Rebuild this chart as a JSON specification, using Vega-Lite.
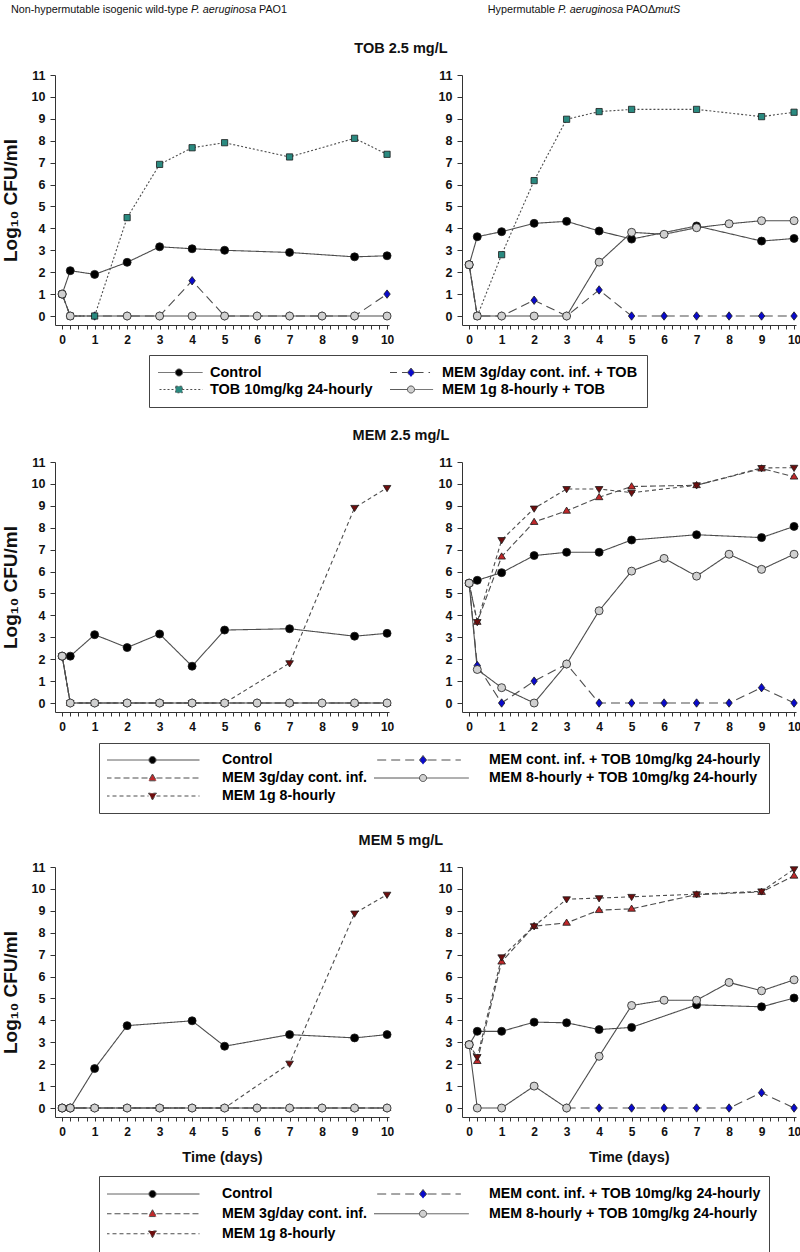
{
 "$schema": "https://vega.github.io/schema/vega-lite/v6.json",
 "padding": {"left": 1, "top": 4, "right": 0, "bottom": 0},
 "config": {
  "font": "Liberation Sans",
  "view": {"stroke": null},
  "axis": {"grid": false, "domainColor": "#333", "tickColor": "#333", "labelColor": "#111", "labelFontWeight": "bold", "labelFlush": false, "labelOverlap": false, "titleColor": "#111", "titleFontWeight": "bold", "labelFont": "Liberation Sans", "titleFont": "Liberation Sans"},
  "axisX": {"tickSize": 4, "labelFontSize": 12, "labelPadding": 5, "titleFontSize": 14.5, "titlePadding": 13},
  "axisY": {"tickSize": 5, "labelFontSize": 12.5, "labelPadding": 5, "titleFontSize": 19, "titlePadding": 11},
  "title": {"font": "Liberation Sans", "fontSize": 14.5, "fontWeight": "bold", "color": "#111", "anchor": "middle", "offset": 13}
 },
 "datasets": {
  "hdr": [
   {"strain": "wt", "pre": "Non-hypermutable isogenic wild-type", "sp": "P. aeruginosa", "post": "PAO1", "post2": ""},
   {"strain": "mut", "pre": "Hypermutable", "sp": "P. aeruginosa", "post": "PAOΔ", "post2": "mutS"}
  ],
  "tl": [
   {"series":"Control","t":0,"v":1},{"series":"Control","t":0.25,"v":2.07},{"series":"Control","t":1,"v":1.9},{"series":"Control","t":2,"v":2.45},{"series":"Control","t":3,"v":3.16},{"series":"Control","t":4,"v":3.07},{"series":"Control","t":5,"v":3},{"series":"Control","t":7,"v":2.9},{"series":"Control","t":9,"v":2.7},{"series":"Control","t":10,"v":2.75},
   {"series":"MEM 3g/day cont. inf. + TOB","t":0,"v":1},{"series":"MEM 3g/day cont. inf. + TOB","t":0.25,"v":0},{"series":"MEM 3g/day cont. inf. + TOB","t":1,"v":0},{"series":"MEM 3g/day cont. inf. + TOB","t":2,"v":0},{"series":"MEM 3g/day cont. inf. + TOB","t":3,"v":0},{"series":"MEM 3g/day cont. inf. + TOB","t":4,"v":1.61},{"series":"MEM 3g/day cont. inf. + TOB","t":5,"v":0},{"series":"MEM 3g/day cont. inf. + TOB","t":6,"v":0},{"series":"MEM 3g/day cont. inf. + TOB","t":7,"v":0},{"series":"MEM 3g/day cont. inf. + TOB","t":8,"v":0},{"series":"MEM 3g/day cont. inf. + TOB","t":9,"v":0},{"series":"MEM 3g/day cont. inf. + TOB","t":10,"v":1},
   {"series":"TOB 10mg/kg 24-hourly","t":0,"v":1},{"series":"TOB 10mg/kg 24-hourly","t":0.25,"v":0},{"series":"TOB 10mg/kg 24-hourly","t":1,"v":0},{"series":"TOB 10mg/kg 24-hourly","t":2,"v":4.49},{"series":"TOB 10mg/kg 24-hourly","t":3,"v":6.92},{"series":"TOB 10mg/kg 24-hourly","t":4,"v":7.68},{"series":"TOB 10mg/kg 24-hourly","t":5,"v":7.91},{"series":"TOB 10mg/kg 24-hourly","t":7,"v":7.26},{"series":"TOB 10mg/kg 24-hourly","t":9,"v":8.11},{"series":"TOB 10mg/kg 24-hourly","t":10,"v":7.38},
   {"series":"MEM 1g 8-hourly + TOB","t":0,"v":1},{"series":"MEM 1g 8-hourly + TOB","t":0.25,"v":0},{"series":"MEM 1g 8-hourly + TOB","t":2,"v":0},{"series":"MEM 1g 8-hourly + TOB","t":3,"v":0},{"series":"MEM 1g 8-hourly + TOB","t":4,"v":0},{"series":"MEM 1g 8-hourly + TOB","t":5,"v":0},{"series":"MEM 1g 8-hourly + TOB","t":6,"v":0},{"series":"MEM 1g 8-hourly + TOB","t":7,"v":0},{"series":"MEM 1g 8-hourly + TOB","t":8,"v":0},{"series":"MEM 1g 8-hourly + TOB","t":9,"v":0},{"series":"MEM 1g 8-hourly + TOB","t":10,"v":0}
  ],
  "tr": [
   {"series":"Control","t":0,"v":2.34},{"series":"Control","t":0.25,"v":3.62},{"series":"Control","t":1,"v":3.85},{"series":"Control","t":2,"v":4.23},{"series":"Control","t":3,"v":4.32},{"series":"Control","t":4,"v":3.88},{"series":"Control","t":5,"v":3.51},{"series":"Control","t":7,"v":4.11},{"series":"Control","t":9,"v":3.42},{"series":"Control","t":10,"v":3.54},
   {"series":"MEM 3g/day cont. inf. + TOB","t":0,"v":2.34},{"series":"MEM 3g/day cont. inf. + TOB","t":0.25,"v":0},{"series":"MEM 3g/day cont. inf. + TOB","t":1,"v":0},{"series":"MEM 3g/day cont. inf. + TOB","t":2,"v":0.72},{"series":"MEM 3g/day cont. inf. + TOB","t":3,"v":0},{"series":"MEM 3g/day cont. inf. + TOB","t":4,"v":1.19},{"series":"MEM 3g/day cont. inf. + TOB","t":5,"v":0},{"series":"MEM 3g/day cont. inf. + TOB","t":6,"v":0},{"series":"MEM 3g/day cont. inf. + TOB","t":7,"v":0},{"series":"MEM 3g/day cont. inf. + TOB","t":8,"v":0},{"series":"MEM 3g/day cont. inf. + TOB","t":9,"v":0},{"series":"MEM 3g/day cont. inf. + TOB","t":10,"v":0},
   {"series":"TOB 10mg/kg 24-hourly","t":0,"v":2.34},{"series":"TOB 10mg/kg 24-hourly","t":0.25,"v":0},{"series":"TOB 10mg/kg 24-hourly","t":1,"v":2.8},{"series":"TOB 10mg/kg 24-hourly","t":2,"v":6.18},{"series":"TOB 10mg/kg 24-hourly","t":3,"v":8.98},{"series":"TOB 10mg/kg 24-hourly","t":4,"v":9.33},{"series":"TOB 10mg/kg 24-hourly","t":5,"v":9.43},{"series":"TOB 10mg/kg 24-hourly","t":7,"v":9.43},{"series":"TOB 10mg/kg 24-hourly","t":9,"v":9.1},{"series":"TOB 10mg/kg 24-hourly","t":10,"v":9.3},
   {"series":"MEM 1g 8-hourly + TOB","t":0,"v":2.34},{"series":"MEM 1g 8-hourly + TOB","t":0.25,"v":0},{"series":"MEM 1g 8-hourly + TOB","t":1,"v":0},{"series":"MEM 1g 8-hourly + TOB","t":2,"v":0},{"series":"MEM 1g 8-hourly + TOB","t":3,"v":0},{"series":"MEM 1g 8-hourly + TOB","t":4,"v":2.46},{"series":"MEM 1g 8-hourly + TOB","t":5,"v":3.82},{"series":"MEM 1g 8-hourly + TOB","t":6,"v":3.73},{"series":"MEM 1g 8-hourly + TOB","t":7,"v":4.03},{"series":"MEM 1g 8-hourly + TOB","t":8,"v":4.21},{"series":"MEM 1g 8-hourly + TOB","t":9,"v":4.35},{"series":"MEM 1g 8-hourly + TOB","t":10,"v":4.35}
  ],
  "ml": [
   {"series":"Control","t":0,"v":2.14},{"series":"Control","t":0.25,"v":2.14},{"series":"Control","t":1,"v":3.12},{"series":"Control","t":2,"v":2.53},{"series":"Control","t":3,"v":3.15},{"series":"Control","t":4,"v":1.68},{"series":"Control","t":5,"v":3.33},{"series":"Control","t":7,"v":3.39},{"series":"Control","t":9,"v":3.05},{"series":"Control","t":10,"v":3.18},
   {"series":"MEM 3g/day cont. inf.","t":0,"v":2.14},{"series":"MEM 3g/day cont. inf.","t":0.25,"v":0},{"series":"MEM 3g/day cont. inf.","t":1,"v":0},{"series":"MEM 3g/day cont. inf.","t":2,"v":0},{"series":"MEM 3g/day cont. inf.","t":3,"v":0},{"series":"MEM 3g/day cont. inf.","t":4,"v":0},{"series":"MEM 3g/day cont. inf.","t":5,"v":0},{"series":"MEM 3g/day cont. inf.","t":7,"v":0},{"series":"MEM 3g/day cont. inf.","t":9,"v":0},{"series":"MEM 3g/day cont. inf.","t":10,"v":0},
   {"series":"MEM 1g 8-hourly","t":0,"v":2.14},{"series":"MEM 1g 8-hourly","t":0.25,"v":0},{"series":"MEM 1g 8-hourly","t":1,"v":0},{"series":"MEM 1g 8-hourly","t":2,"v":0},{"series":"MEM 1g 8-hourly","t":3,"v":0},{"series":"MEM 1g 8-hourly","t":4,"v":0},{"series":"MEM 1g 8-hourly","t":5,"v":0},{"series":"MEM 1g 8-hourly","t":7,"v":1.82},{"series":"MEM 1g 8-hourly","t":9,"v":8.91},{"series":"MEM 1g 8-hourly","t":10,"v":9.82},
   {"series":"MEM cont. inf. + TOB 10mg/kg 24-hourly","t":0,"v":2.14},{"series":"MEM cont. inf. + TOB 10mg/kg 24-hourly","t":0.25,"v":0},{"series":"MEM cont. inf. + TOB 10mg/kg 24-hourly","t":1,"v":0},{"series":"MEM cont. inf. + TOB 10mg/kg 24-hourly","t":2,"v":0},{"series":"MEM cont. inf. + TOB 10mg/kg 24-hourly","t":3,"v":0},{"series":"MEM cont. inf. + TOB 10mg/kg 24-hourly","t":4,"v":0},{"series":"MEM cont. inf. + TOB 10mg/kg 24-hourly","t":5,"v":0},{"series":"MEM cont. inf. + TOB 10mg/kg 24-hourly","t":6,"v":0},{"series":"MEM cont. inf. + TOB 10mg/kg 24-hourly","t":7,"v":0},{"series":"MEM cont. inf. + TOB 10mg/kg 24-hourly","t":8,"v":0},{"series":"MEM cont. inf. + TOB 10mg/kg 24-hourly","t":9,"v":0},{"series":"MEM cont. inf. + TOB 10mg/kg 24-hourly","t":10,"v":0},
   {"series":"MEM 8-hourly + TOB 10mg/kg 24-hourly","t":0,"v":2.14},{"series":"MEM 8-hourly + TOB 10mg/kg 24-hourly","t":0.25,"v":0},{"series":"MEM 8-hourly + TOB 10mg/kg 24-hourly","t":1,"v":0},{"series":"MEM 8-hourly + TOB 10mg/kg 24-hourly","t":2,"v":0},{"series":"MEM 8-hourly + TOB 10mg/kg 24-hourly","t":3,"v":0},{"series":"MEM 8-hourly + TOB 10mg/kg 24-hourly","t":4,"v":0},{"series":"MEM 8-hourly + TOB 10mg/kg 24-hourly","t":5,"v":0},{"series":"MEM 8-hourly + TOB 10mg/kg 24-hourly","t":6,"v":0},{"series":"MEM 8-hourly + TOB 10mg/kg 24-hourly","t":7,"v":0},{"series":"MEM 8-hourly + TOB 10mg/kg 24-hourly","t":8,"v":0},{"series":"MEM 8-hourly + TOB 10mg/kg 24-hourly","t":9,"v":0},{"series":"MEM 8-hourly + TOB 10mg/kg 24-hourly","t":10,"v":0}
  ],
  "mr": [
   {"series":"Control","t":0,"v":5.47},{"series":"Control","t":0.25,"v":5.6},{"series":"Control","t":1,"v":5.95},{"series":"Control","t":2,"v":6.73},{"series":"Control","t":3,"v":6.88},{"series":"Control","t":4,"v":6.88},{"series":"Control","t":5,"v":7.44},{"series":"Control","t":7,"v":7.68},{"series":"Control","t":9,"v":7.55},{"series":"Control","t":10,"v":8.06},
   {"series":"MEM 3g/day cont. inf.","t":0,"v":5.47},{"series":"MEM 3g/day cont. inf.","t":0.25,"v":3.7},{"series":"MEM 3g/day cont. inf.","t":1,"v":6.68},{"series":"MEM 3g/day cont. inf.","t":2,"v":8.26},{"series":"MEM 3g/day cont. inf.","t":3,"v":8.77},{"series":"MEM 3g/day cont. inf.","t":4,"v":9.39},{"series":"MEM 3g/day cont. inf.","t":5,"v":9.88},{"series":"MEM 3g/day cont. inf.","t":7,"v":9.94},{"series":"MEM 3g/day cont. inf.","t":9,"v":10.7},{"series":"MEM 3g/day cont. inf.","t":10,"v":10.33},
   {"series":"MEM 1g 8-hourly","t":0,"v":5.47},{"series":"MEM 1g 8-hourly","t":0.25,"v":3.7},{"series":"MEM 1g 8-hourly","t":1,"v":7.44},{"series":"MEM 1g 8-hourly","t":2,"v":8.88},{"series":"MEM 1g 8-hourly","t":3,"v":9.77},{"series":"MEM 1g 8-hourly","t":4,"v":9.77},{"series":"MEM 1g 8-hourly","t":5,"v":9.6},{"series":"MEM 1g 8-hourly","t":7,"v":9.94},{"series":"MEM 1g 8-hourly","t":9,"v":10.73},{"series":"MEM 1g 8-hourly","t":10,"v":10.74},
   {"series":"MEM cont. inf. + TOB 10mg/kg 24-hourly","t":0,"v":5.47},{"series":"MEM cont. inf. + TOB 10mg/kg 24-hourly","t":0.25,"v":1.71},{"series":"MEM cont. inf. + TOB 10mg/kg 24-hourly","t":1,"v":0},{"series":"MEM cont. inf. + TOB 10mg/kg 24-hourly","t":2,"v":1},{"series":"MEM cont. inf. + TOB 10mg/kg 24-hourly","t":3,"v":1.78},{"series":"MEM cont. inf. + TOB 10mg/kg 24-hourly","t":4,"v":0},{"series":"MEM cont. inf. + TOB 10mg/kg 24-hourly","t":5,"v":0},{"series":"MEM cont. inf. + TOB 10mg/kg 24-hourly","t":6,"v":0},{"series":"MEM cont. inf. + TOB 10mg/kg 24-hourly","t":7,"v":0},{"series":"MEM cont. inf. + TOB 10mg/kg 24-hourly","t":8,"v":0},{"series":"MEM cont. inf. + TOB 10mg/kg 24-hourly","t":9,"v":0.7},{"series":"MEM cont. inf. + TOB 10mg/kg 24-hourly","t":10,"v":0},
   {"series":"MEM 8-hourly + TOB 10mg/kg 24-hourly","t":0,"v":5.47},{"series":"MEM 8-hourly + TOB 10mg/kg 24-hourly","t":0.25,"v":1.53},{"series":"MEM 8-hourly + TOB 10mg/kg 24-hourly","t":1,"v":0.7},{"series":"MEM 8-hourly + TOB 10mg/kg 24-hourly","t":2,"v":0},{"series":"MEM 8-hourly + TOB 10mg/kg 24-hourly","t":3,"v":1.78},{"series":"MEM 8-hourly + TOB 10mg/kg 24-hourly","t":4,"v":4.21},{"series":"MEM 8-hourly + TOB 10mg/kg 24-hourly","t":5,"v":6.02},{"series":"MEM 8-hourly + TOB 10mg/kg 24-hourly","t":6,"v":6.6},{"series":"MEM 8-hourly + TOB 10mg/kg 24-hourly","t":7,"v":5.79},{"series":"MEM 8-hourly + TOB 10mg/kg 24-hourly","t":8,"v":6.79},{"series":"MEM 8-hourly + TOB 10mg/kg 24-hourly","t":9,"v":6.1},{"series":"MEM 8-hourly + TOB 10mg/kg 24-hourly","t":10,"v":6.79}
  ],
  "bl": [
   {"series":"Control","t":0,"v":0},{"series":"Control","t":0.25,"v":0},{"series":"Control","t":1,"v":1.8},{"series":"Control","t":2,"v":3.76},{"series":"Control","t":4,"v":3.98},{"series":"Control","t":5,"v":2.82},{"series":"Control","t":7,"v":3.35},{"series":"Control","t":9,"v":3.2},{"series":"Control","t":10,"v":3.35},
   {"series":"MEM 3g/day cont. inf.","t":0,"v":0},{"series":"MEM 3g/day cont. inf.","t":0.25,"v":0},{"series":"MEM 3g/day cont. inf.","t":1,"v":0},{"series":"MEM 3g/day cont. inf.","t":2,"v":0},{"series":"MEM 3g/day cont. inf.","t":3,"v":0},{"series":"MEM 3g/day cont. inf.","t":4,"v":0},{"series":"MEM 3g/day cont. inf.","t":5,"v":0},{"series":"MEM 3g/day cont. inf.","t":7,"v":0},{"series":"MEM 3g/day cont. inf.","t":9,"v":0},{"series":"MEM 3g/day cont. inf.","t":10,"v":0},
   {"series":"MEM 1g 8-hourly","t":0,"v":0},{"series":"MEM 1g 8-hourly","t":0.25,"v":0},{"series":"MEM 1g 8-hourly","t":1,"v":0},{"series":"MEM 1g 8-hourly","t":2,"v":0},{"series":"MEM 1g 8-hourly","t":3,"v":0},{"series":"MEM 1g 8-hourly","t":4,"v":0},{"series":"MEM 1g 8-hourly","t":5,"v":0},{"series":"MEM 1g 8-hourly","t":7,"v":2.03},{"series":"MEM 1g 8-hourly","t":9,"v":8.88},{"series":"MEM 1g 8-hourly","t":10,"v":9.74},
   {"series":"MEM cont. inf. + TOB 10mg/kg 24-hourly","t":0,"v":0},{"series":"MEM cont. inf. + TOB 10mg/kg 24-hourly","t":0.25,"v":0},{"series":"MEM cont. inf. + TOB 10mg/kg 24-hourly","t":1,"v":0},{"series":"MEM cont. inf. + TOB 10mg/kg 24-hourly","t":2,"v":0},{"series":"MEM cont. inf. + TOB 10mg/kg 24-hourly","t":3,"v":0},{"series":"MEM cont. inf. + TOB 10mg/kg 24-hourly","t":4,"v":0},{"series":"MEM cont. inf. + TOB 10mg/kg 24-hourly","t":5,"v":0},{"series":"MEM cont. inf. + TOB 10mg/kg 24-hourly","t":6,"v":0},{"series":"MEM cont. inf. + TOB 10mg/kg 24-hourly","t":7,"v":0},{"series":"MEM cont. inf. + TOB 10mg/kg 24-hourly","t":8,"v":0},{"series":"MEM cont. inf. + TOB 10mg/kg 24-hourly","t":9,"v":0},{"series":"MEM cont. inf. + TOB 10mg/kg 24-hourly","t":10,"v":0},
   {"series":"MEM 8-hourly + TOB 10mg/kg 24-hourly","t":0,"v":0},{"series":"MEM 8-hourly + TOB 10mg/kg 24-hourly","t":0.25,"v":0},{"series":"MEM 8-hourly + TOB 10mg/kg 24-hourly","t":1,"v":0},{"series":"MEM 8-hourly + TOB 10mg/kg 24-hourly","t":2,"v":0},{"series":"MEM 8-hourly + TOB 10mg/kg 24-hourly","t":3,"v":0},{"series":"MEM 8-hourly + TOB 10mg/kg 24-hourly","t":4,"v":0},{"series":"MEM 8-hourly + TOB 10mg/kg 24-hourly","t":5,"v":0},{"series":"MEM 8-hourly + TOB 10mg/kg 24-hourly","t":6,"v":0},{"series":"MEM 8-hourly + TOB 10mg/kg 24-hourly","t":7,"v":0},{"series":"MEM 8-hourly + TOB 10mg/kg 24-hourly","t":8,"v":0},{"series":"MEM 8-hourly + TOB 10mg/kg 24-hourly","t":9,"v":0},{"series":"MEM 8-hourly + TOB 10mg/kg 24-hourly","t":10,"v":0}
  ],
  "br": [
   {"series":"Control","t":0,"v":2.89},{"series":"Control","t":0.25,"v":3.5},{"series":"Control","t":1,"v":3.5},{"series":"Control","t":2,"v":3.92},{"series":"Control","t":3,"v":3.89},{"series":"Control","t":4,"v":3.58},{"series":"Control","t":5,"v":3.68},{"series":"Control","t":7,"v":4.71},{"series":"Control","t":9,"v":4.62},{"series":"Control","t":10,"v":5.02},
   {"series":"MEM 3g/day cont. inf.","t":0,"v":2.89},{"series":"MEM 3g/day cont. inf.","t":0.25,"v":2.14},{"series":"MEM 3g/day cont. inf.","t":1,"v":6.68},{"series":"MEM 3g/day cont. inf.","t":2,"v":8.3},{"series":"MEM 3g/day cont. inf.","t":3,"v":8.45},{"series":"MEM 3g/day cont. inf.","t":4,"v":9.03},{"series":"MEM 3g/day cont. inf.","t":5,"v":9.09},{"series":"MEM 3g/day cont. inf.","t":7,"v":9.74},{"series":"MEM 3g/day cont. inf.","t":9,"v":9.86},{"series":"MEM 3g/day cont. inf.","t":10,"v":10.6},
   {"series":"MEM 1g 8-hourly","t":0,"v":2.89},{"series":"MEM 1g 8-hourly","t":0.25,"v":2.33},{"series":"MEM 1g 8-hourly","t":1,"v":6.88},{"series":"MEM 1g 8-hourly","t":2,"v":8.3},{"series":"MEM 1g 8-hourly","t":3,"v":9.53},{"series":"MEM 1g 8-hourly","t":4,"v":9.58},{"series":"MEM 1g 8-hourly","t":5,"v":9.64},{"series":"MEM 1g 8-hourly","t":7,"v":9.76},{"series":"MEM 1g 8-hourly","t":9,"v":9.89},{"series":"MEM 1g 8-hourly","t":10,"v":10.9},
   {"series":"MEM cont. inf. + TOB 10mg/kg 24-hourly","t":3,"v":0},{"series":"MEM cont. inf. + TOB 10mg/kg 24-hourly","t":4,"v":0},{"series":"MEM cont. inf. + TOB 10mg/kg 24-hourly","t":5,"v":0},{"series":"MEM cont. inf. + TOB 10mg/kg 24-hourly","t":6,"v":0},{"series":"MEM cont. inf. + TOB 10mg/kg 24-hourly","t":7,"v":0},{"series":"MEM cont. inf. + TOB 10mg/kg 24-hourly","t":8,"v":0},{"series":"MEM cont. inf. + TOB 10mg/kg 24-hourly","t":9,"v":0.7},{"series":"MEM cont. inf. + TOB 10mg/kg 24-hourly","t":10,"v":0},
   {"series":"MEM 8-hourly + TOB 10mg/kg 24-hourly","t":0,"v":2.89},{"series":"MEM 8-hourly + TOB 10mg/kg 24-hourly","t":0.25,"v":0},{"series":"MEM 8-hourly + TOB 10mg/kg 24-hourly","t":1,"v":0},{"series":"MEM 8-hourly + TOB 10mg/kg 24-hourly","t":2,"v":1},{"series":"MEM 8-hourly + TOB 10mg/kg 24-hourly","t":3,"v":0},{"series":"MEM 8-hourly + TOB 10mg/kg 24-hourly","t":4,"v":2.36},{"series":"MEM 8-hourly + TOB 10mg/kg 24-hourly","t":5,"v":4.68},{"series":"MEM 8-hourly + TOB 10mg/kg 24-hourly","t":6,"v":4.92},{"series":"MEM 8-hourly + TOB 10mg/kg 24-hourly","t":7,"v":4.92},{"series":"MEM 8-hourly + TOB 10mg/kg 24-hourly","t":8,"v":5.73},{"series":"MEM 8-hourly + TOB 10mg/kg 24-hourly","t":9,"v":5.35},{"series":"MEM 8-hourly + TOB 10mg/kg 24-hourly","t":10,"v":5.85}
  ]
 },
 "spacing": 19,
 "resolve": {"scale": {"shape": "independent", "fill": "independent", "strokeDash": "independent"}, "legend": {"shape": "independent", "fill": "independent", "strokeDash": "independent"}},
 "vconcat": [
  {
   "spacing": 24,
   "resolve": {"scale": {"shape": "independent", "fill": "independent", "strokeDash": "independent"}, "legend": {"shape": "independent", "fill": "independent", "strokeDash": "independent"}},
   "vconcat": [
    {
     "width": 790, "height": 12,
     "data": {"name": "hdr"},
     "encoding": {"x": {"field": "strain", "type": "nominal", "scale": {"type": "point", "domain": ["wt", "mut"], "range": [136, 503], "padding": 0}, "axis": null}},
     "layer": [
      {"mark": {"type": "text", "align": "right", "dx": -3, "fontSize": 10.8, "baseline": "middle", "color": "#111"}, "encoding": {"text": {"field": "pre"}}},
      {"mark": {"type": "text", "align": "left", "fontSize": 10.8, "fontStyle": "italic", "baseline": "middle", "color": "#111"}, "encoding": {"text": {"field": "sp"}}},
      {"mark": {"type": "text", "align": "left", "dx": 68, "fontSize": 10.8, "baseline": "middle", "color": "#111"}, "encoding": {"text": {"field": "post"}}},
      {"mark": {"type": "text", "align": "left", "dx": 97, "fontSize": 10.8, "fontStyle": "italic", "baseline": "middle", "color": "#111"}, "encoding": {"text": {"field": "post2"}}}
     ]
    },
    {
     "title": "TOB 2.5 mg/L",
     "spacing": 44,
     "hconcat": [
      {
       "width": 334, "height": 250,
       "data": {"name": "tl"},
       "encoding": {
        "x": {"field": "t", "type": "quantitative", "scale": {"domain": [-0.22, 10.06], "nice": false, "zero": false}, "axis": {"values": [0,0.25,0.5,0.75,1,1.25,1.5,1.75,2,2.25,2.5,2.75,3,3.25,3.5,3.75,4,4.25,4.5,4.75,5,5.25,5.5,5.75,6,6.25,6.5,6.75,7,7.25,7.5,7.75,8,8.25,8.5,8.75,9,9.25,9.5,9.75,10], "labelExpr": "datum.value % 1 === 0 ? '' + datum.value : ''", "title": null}},
        "y": {"field": "v", "type": "quantitative", "scale": {"domain": [-0.41, 11], "nice": false, "zero": false}, "axis": {"values": [0,1,2,3,4,5,6,7,8,9,10,11], "title": "Log₁₀ CFU/ml"}}
       },
       "layer": [
        {"mark": {"type": "line", "color": "#4d4d4d", "strokeWidth": 1.1}, "encoding": {"strokeDash": {"field": "series", "type": "nominal", "scale": {"domain": ["Control","TOB 10mg/kg 24-hourly","MEM 3g/day cont. inf. + TOB","MEM 1g 8-hourly + TOB"], "range": [[1,0],[2,2],[9,5],[1,0]]},
            "legend": {"orient": "none", "legendX": 94, "legendY": 280, "title": null, "columns": 2, "columnPadding": 17, "rowPadding": 0, "clipHeight": 17, "padding": 9, "strokeColor": "#444", "symbolSize": 2209, "symbolStrokeWidth": 1, "symbolStrokeColor": "#333", "symbolOpacity": 1, "symbolOffset": -3, "labelOffset": 7, "labelFontSize": 14.5, "labelFontWeight": "bold", "labelColor": "#000", "labelLimit": 600,
              "symbolType": {"expr": "['M-1,0H-0.15M0.15,0H1M-0.15,0A0.15,0.15,0,1,0,0.15,0A0.15,0.15,0,1,0,-0.15,0Z','M-1,0H-0.14M0.14,0H1M-0.14,-0.14H0.14V0.14H-0.14Z','M-0.98,0H-0.15M0.15,0H0.81M0,-0.19L0.15,0L0,0.19L-0.15,0Z','M-1.4,0H-0.15M0.15,0H0.94M-0.15,0A0.15,0.15,0,1,0,0.15,0A0.15,0.15,0,1,0,-0.15,0Z'][datum.index]"}
            }}}},
        {"mark": {"type": "point", "filled": true, "opacity": 1, "stroke": "#1a1a1a", "strokeWidth": 0.8, "size": 64}, "encoding": {
          "shape": {"field": "series", "type": "nominal", "scale": {"domain": ["MEM 1g 8-hourly + TOB","MEM 3g/day cont. inf. + TOB","TOB 10mg/kg 24-hourly","Control"], "range": ["circle","M0,-1.05L0.8,0L0,1.05L-0.8,0Z","M-0.78,-0.78H0.78V0.78H-0.78Z","circle"]}, "legend": null},
          "fill": {"field": "series", "type": "nominal", "scale": {"domain": ["Control","TOB 10mg/kg 24-hourly","MEM 3g/day cont. inf. + TOB","MEM 1g 8-hourly + TOB"], "range": ["#000000","#2a8a80","#0a0acc","#d0d0d0"]},
            "legend": {"orient": "none", "legendX": 94, "legendY": 280, "title": null, "columns": 2, "columnPadding": 17, "rowPadding": 0, "clipHeight": 17, "padding": 9, "strokeColor": "#444", "symbolSize": 2209, "symbolStrokeWidth": 1, "symbolStrokeColor": "#333", "symbolOpacity": 1, "symbolOffset": -3, "labelOffset": 7, "labelFontSize": 14.5, "labelFontWeight": "bold", "labelColor": "#000", "labelLimit": 600,
              "symbolType": {"expr": "['M-1,0H-0.15M0.15,0H1M-0.15,0A0.15,0.15,0,1,0,0.15,0A0.15,0.15,0,1,0,-0.15,0Z','M-1,0H-0.14M0.14,0H1M-0.14,-0.14H0.14V0.14H-0.14Z','M-0.98,0H-0.15M0.15,0H0.81M0,-0.19L0.15,0L0,0.19L-0.15,0Z','M-1.4,0H-0.15M0.15,0H0.94M-0.15,0A0.15,0.15,0,1,0,0.15,0A0.15,0.15,0,1,0,-0.15,0Z'][datum.index]"}
            }}
        }}
       ]
      },
      {
       "width": 334, "height": 250,
       "data": {"name": "tr"},
       "encoding": {
        "x": {"field": "t", "type": "quantitative", "scale": {"domain": [-0.22, 10.06], "nice": false, "zero": false}, "axis": {"values": [0,0.25,0.5,0.75,1,1.25,1.5,1.75,2,2.25,2.5,2.75,3,3.25,3.5,3.75,4,4.25,4.5,4.75,5,5.25,5.5,5.75,6,6.25,6.5,6.75,7,7.25,7.5,7.75,8,8.25,8.5,8.75,9,9.25,9.5,9.75,10], "labelExpr": "datum.value % 1 === 0 ? '' + datum.value : ''", "title": null}},
        "y": {"field": "v", "type": "quantitative", "scale": {"domain": [-0.41, 11], "nice": false, "zero": false}, "axis": {"values": [0,1,2,3,4,5,6,7,8,9,10,11], "title": null}}
       },
       "layer": [
        {"mark": {"type": "line", "color": "#4d4d4d", "strokeWidth": 1.1}, "encoding": {"strokeDash": {"field": "series", "type": "nominal", "scale": {"domain": ["Control","TOB 10mg/kg 24-hourly","MEM 3g/day cont. inf. + TOB","MEM 1g 8-hourly + TOB"], "range": [[1,0],[2,2],[9,5],[1,0]]}}}},
        {"mark": {"type": "point", "filled": true, "opacity": 1, "stroke": "#1a1a1a", "strokeWidth": 0.8, "size": 64}, "encoding": {
          "shape": {"field": "series", "type": "nominal", "scale": {"domain": ["MEM 1g 8-hourly + TOB","MEM 3g/day cont. inf. + TOB","TOB 10mg/kg 24-hourly","Control"], "range": ["circle","M0,-1.05L0.8,0L0,1.05L-0.8,0Z","M-0.78,-0.78H0.78V0.78H-0.78Z","circle"]}, "legend": null},
          "fill": {"field": "series", "type": "nominal", "scale": {"domain": ["Control","TOB 10mg/kg 24-hourly","MEM 3g/day cont. inf. + TOB","MEM 1g 8-hourly + TOB"], "range": ["#000000","#2a8a80","#0a0acc","#d0d0d0"]}}
        }}
       ]
      }
     ]
    }
   ]
  },
  {
   "spacing": 18,
   "resolve": {"scale": {"shape": "independent", "fill": "independent", "strokeDash": "independent"}, "legend": {"shape": "independent", "fill": "independent", "strokeDash": "independent"}},
   "vconcat": [
    {
     "title": "MEM 2.5 mg/L",
     "spacing": 44,
     "hconcat": [
      {
       "width": 334, "height": 250,
       "data": {"name": "ml"},
       "encoding": {
        "x": {"field": "t", "type": "quantitative", "scale": {"domain": [-0.22, 10.06], "nice": false, "zero": false}, "axis": {"values": [0,0.25,0.5,0.75,1,1.25,1.5,1.75,2,2.25,2.5,2.75,3,3.25,3.5,3.75,4,4.25,4.5,4.75,5,5.25,5.5,5.75,6,6.25,6.5,6.75,7,7.25,7.5,7.75,8,8.25,8.5,8.75,9,9.25,9.5,9.75,10], "labelExpr": "datum.value % 1 === 0 ? '' + datum.value : ''", "title": null}},
        "y": {"field": "v", "type": "quantitative", "scale": {"domain": [-0.41, 11], "nice": false, "zero": false}, "axis": {"values": [0,1,2,3,4,5,6,7,8,9,10,11], "title": "Log₁₀ CFU/ml"}}
       },
       "layer": [
        {"mark": {"type": "line", "color": "#4d4d4d", "strokeWidth": 1.1}, "encoding": {"strokeDash": {"field": "series", "type": "nominal", "scale": {"domain": ["Control","MEM 3g/day cont. inf.","MEM 1g 8-hourly","MEM cont. inf. + TOB 10mg/kg 24-hourly","MEM 8-hourly + TOB 10mg/kg 24-hourly"], "range": [[1,0],[6,3],[4,3],[9,5],[1,0]]},
            "legend": {"orient": "none", "legendX": 44, "legendY": 281, "title": null, "columns": 2, "columnPadding": 6, "rowPadding": 0, "clipHeight": 18, "padding": 8, "strokeColor": "#444", "symbolSize": 8836, "symbolStrokeWidth": 1, "symbolStrokeColor": "#333", "symbolOpacity": 1, "symbolOffset": -2, "labelOffset": 22, "labelFontSize": 14.2, "labelFontWeight": "bold", "labelColor": "#000", "labelLimit": 600,
              "symbolType": {"expr": "['M-1,0H-0.075M0.075,0H1M-0.075,0A0.075,0.075,0,1,0,0.075,0A0.075,0.075,0,1,0,-0.075,0Z','M-1,0H-0.085M0.085,0H1M0,-0.085L0.085,0.06L-0.085,0.06Z','M-1,0H-0.085M0.085,0H1M0,0.085L0.085,-0.06L-0.085,-0.06Z','M-0.9,0H-0.02M0.17,0H0.88M0.075,-0.096L0.15,0L0.075,0.096L0,0Z','M-1.03,0H0M0.15,0H1.05M0,0A0.075,0.075,0,1,0,0.15,0A0.075,0.075,0,1,0,0,0Z'][datum.index]"}
            }}}},
        {"mark": {"type": "point", "filled": true, "opacity": 1, "stroke": "#1a1a1a", "strokeWidth": 0.8, "size": 64}, "encoding": {
          "shape": {"field": "series", "type": "nominal", "scale": {"domain": ["MEM 8-hourly + TOB 10mg/kg 24-hourly","MEM cont. inf. + TOB 10mg/kg 24-hourly","MEM 1g 8-hourly","MEM 3g/day cont. inf.","Control"], "range": ["circle","M0,-1.05L0.8,0L0,1.05L-0.8,0Z","M0,0.95L0.95,-0.6L-0.95,-0.6Z","M0,-0.95L0.95,0.6L-0.95,0.6Z","circle"]}, "legend": null},
          "fill": {"field": "series", "type": "nominal", "scale": {"domain": ["Control","MEM 3g/day cont. inf.","MEM 1g 8-hourly","MEM cont. inf. + TOB 10mg/kg 24-hourly","MEM 8-hourly + TOB 10mg/kg 24-hourly"], "range": ["#000000","#c0282a","#6e0e0e","#0a0acc","#d0d0d0"]},
            "legend": {"orient": "none", "legendX": 44, "legendY": 281, "title": null, "columns": 2, "columnPadding": 6, "rowPadding": 0, "clipHeight": 18, "padding": 8, "strokeColor": "#444", "symbolSize": 8836, "symbolStrokeWidth": 1, "symbolStrokeColor": "#333", "symbolOpacity": 1, "symbolOffset": -2, "labelOffset": 22, "labelFontSize": 14.2, "labelFontWeight": "bold", "labelColor": "#000", "labelLimit": 600,
              "symbolType": {"expr": "['M-1,0H-0.075M0.075,0H1M-0.075,0A0.075,0.075,0,1,0,0.075,0A0.075,0.075,0,1,0,-0.075,0Z','M-1,0H-0.085M0.085,0H1M0,-0.085L0.085,0.06L-0.085,0.06Z','M-1,0H-0.085M0.085,0H1M0,0.085L0.085,-0.06L-0.085,-0.06Z','M-0.9,0H-0.02M0.17,0H0.88M0.075,-0.096L0.15,0L0.075,0.096L0,0Z','M-1.03,0H0M0.15,0H1.05M0,0A0.075,0.075,0,1,0,0.15,0A0.075,0.075,0,1,0,0,0Z'][datum.index]"}
            }}
        }}
       ]
      },
      {
       "width": 334, "height": 250,
       "data": {"name": "mr"},
       "encoding": {
        "x": {"field": "t", "type": "quantitative", "scale": {"domain": [-0.22, 10.06], "nice": false, "zero": false}, "axis": {"values": [0,0.25,0.5,0.75,1,1.25,1.5,1.75,2,2.25,2.5,2.75,3,3.25,3.5,3.75,4,4.25,4.5,4.75,5,5.25,5.5,5.75,6,6.25,6.5,6.75,7,7.25,7.5,7.75,8,8.25,8.5,8.75,9,9.25,9.5,9.75,10], "labelExpr": "datum.value % 1 === 0 ? '' + datum.value : ''", "title": null}},
        "y": {"field": "v", "type": "quantitative", "scale": {"domain": [-0.41, 11], "nice": false, "zero": false}, "axis": {"values": [0,1,2,3,4,5,6,7,8,9,10,11], "title": null}}
       },
       "layer": [
        {"mark": {"type": "line", "color": "#4d4d4d", "strokeWidth": 1.1}, "encoding": {"strokeDash": {"field": "series", "type": "nominal", "scale": {"domain": ["Control","MEM 3g/day cont. inf.","MEM 1g 8-hourly","MEM cont. inf. + TOB 10mg/kg 24-hourly","MEM 8-hourly + TOB 10mg/kg 24-hourly"], "range": [[1,0],[6,3],[4,3],[9,5],[1,0]]}}}},
        {"mark": {"type": "point", "filled": true, "opacity": 1, "stroke": "#1a1a1a", "strokeWidth": 0.8, "size": 64}, "encoding": {
          "shape": {"field": "series", "type": "nominal", "scale": {"domain": ["MEM 8-hourly + TOB 10mg/kg 24-hourly","MEM cont. inf. + TOB 10mg/kg 24-hourly","MEM 1g 8-hourly","MEM 3g/day cont. inf.","Control"], "range": ["circle","M0,-1.05L0.8,0L0,1.05L-0.8,0Z","M0,0.95L0.95,-0.6L-0.95,-0.6Z","M0,-0.95L0.95,0.6L-0.95,0.6Z","circle"]}, "legend": null},
          "fill": {"field": "series", "type": "nominal", "scale": {"domain": ["Control","MEM 3g/day cont. inf.","MEM 1g 8-hourly","MEM cont. inf. + TOB 10mg/kg 24-hourly","MEM 8-hourly + TOB 10mg/kg 24-hourly"], "range": ["#000000","#c0282a","#6e0e0e","#0a0acc","#d0d0d0"]}}
        }}
       ]
      }
     ]
    },
    {
     "title": "MEM 5 mg/L",
     "spacing": 44,
     "hconcat": [
      {
       "width": 334, "height": 250,
       "data": {"name": "bl"},
       "encoding": {
        "x": {"field": "t", "type": "quantitative", "scale": {"domain": [-0.22, 10.06], "nice": false, "zero": false}, "axis": {"values": [0,0.25,0.5,0.75,1,1.25,1.5,1.75,2,2.25,2.5,2.75,3,3.25,3.5,3.75,4,4.25,4.5,4.75,5,5.25,5.5,5.75,6,6.25,6.5,6.75,7,7.25,7.5,7.75,8,8.25,8.5,8.75,9,9.25,9.5,9.75,10], "labelExpr": "datum.value % 1 === 0 ? '' + datum.value : ''", "title": "Time (days)"}},
        "y": {"field": "v", "type": "quantitative", "scale": {"domain": [-0.41, 11], "nice": false, "zero": false}, "axis": {"values": [0,1,2,3,4,5,6,7,8,9,10,11], "title": "Log₁₀ CFU/ml"}}
       },
       "layer": [
        {"mark": {"type": "line", "color": "#4d4d4d", "strokeWidth": 1.1}, "encoding": {"strokeDash": {"field": "series", "type": "nominal", "scale": {"domain": ["Control","MEM 3g/day cont. inf.","MEM 1g 8-hourly","MEM cont. inf. + TOB 10mg/kg 24-hourly","MEM 8-hourly + TOB 10mg/kg 24-hourly"], "range": [[1,0],[6,3],[4,3],[9,5],[1,0]]},
            "legend": {"orient": "none", "legendX": 44, "legendY": 309, "title": null, "columns": 2, "columnPadding": 6, "rowPadding": 0, "clipHeight": 19.5, "padding": 8, "strokeColor": "#444", "symbolSize": 8836, "symbolStrokeWidth": 1, "symbolStrokeColor": "#333", "symbolOpacity": 1, "symbolOffset": -2, "labelOffset": 22, "labelFontSize": 14.2, "labelFontWeight": "bold", "labelColor": "#000", "labelLimit": 600,
              "symbolType": {"expr": "['M-1,0H-0.075M0.075,0H1M-0.075,0A0.075,0.075,0,1,0,0.075,0A0.075,0.075,0,1,0,-0.075,0Z','M-1,0H-0.085M0.085,0H1M0,-0.085L0.085,0.06L-0.085,0.06Z','M-1,0H-0.085M0.085,0H1M0,0.085L0.085,-0.06L-0.085,-0.06Z','M-0.9,0H-0.02M0.17,0H0.88M0.075,-0.096L0.15,0L0.075,0.096L0,0Z','M-1.03,0H0M0.15,0H1.05M0,0A0.075,0.075,0,1,0,0.15,0A0.075,0.075,0,1,0,0,0Z'][datum.index]"}
            }}}},
        {"mark": {"type": "point", "filled": true, "opacity": 1, "stroke": "#1a1a1a", "strokeWidth": 0.8, "size": 64}, "encoding": {
          "shape": {"field": "series", "type": "nominal", "scale": {"domain": ["MEM 8-hourly + TOB 10mg/kg 24-hourly","MEM cont. inf. + TOB 10mg/kg 24-hourly","MEM 1g 8-hourly","MEM 3g/day cont. inf.","Control"], "range": ["circle","M0,-1.05L0.8,0L0,1.05L-0.8,0Z","M0,0.95L0.95,-0.6L-0.95,-0.6Z","M0,-0.95L0.95,0.6L-0.95,0.6Z","circle"]}, "legend": null},
          "fill": {"field": "series", "type": "nominal", "scale": {"domain": ["Control","MEM 3g/day cont. inf.","MEM 1g 8-hourly","MEM cont. inf. + TOB 10mg/kg 24-hourly","MEM 8-hourly + TOB 10mg/kg 24-hourly"], "range": ["#000000","#c0282a","#6e0e0e","#0a0acc","#d0d0d0"]},
            "legend": {"orient": "none", "legendX": 44, "legendY": 309, "title": null, "columns": 2, "columnPadding": 6, "rowPadding": 0, "clipHeight": 19.5, "padding": 8, "strokeColor": "#444", "symbolSize": 8836, "symbolStrokeWidth": 1, "symbolStrokeColor": "#333", "symbolOpacity": 1, "symbolOffset": -2, "labelOffset": 22, "labelFontSize": 14.2, "labelFontWeight": "bold", "labelColor": "#000", "labelLimit": 600,
              "symbolType": {"expr": "['M-1,0H-0.075M0.075,0H1M-0.075,0A0.075,0.075,0,1,0,0.075,0A0.075,0.075,0,1,0,-0.075,0Z','M-1,0H-0.085M0.085,0H1M0,-0.085L0.085,0.06L-0.085,0.06Z','M-1,0H-0.085M0.085,0H1M0,0.085L0.085,-0.06L-0.085,-0.06Z','M-0.9,0H-0.02M0.17,0H0.88M0.075,-0.096L0.15,0L0.075,0.096L0,0Z','M-1.03,0H0M0.15,0H1.05M0,0A0.075,0.075,0,1,0,0.15,0A0.075,0.075,0,1,0,0,0Z'][datum.index]"}
            }}
        }}
       ]
      },
      {
       "width": 334, "height": 250,
       "data": {"name": "br"},
       "encoding": {
        "x": {"field": "t", "type": "quantitative", "scale": {"domain": [-0.22, 10.06], "nice": false, "zero": false}, "axis": {"values": [0,0.25,0.5,0.75,1,1.25,1.5,1.75,2,2.25,2.5,2.75,3,3.25,3.5,3.75,4,4.25,4.5,4.75,5,5.25,5.5,5.75,6,6.25,6.5,6.75,7,7.25,7.5,7.75,8,8.25,8.5,8.75,9,9.25,9.5,9.75,10], "labelExpr": "datum.value % 1 === 0 ? '' + datum.value : ''", "title": "Time (days)"}},
        "y": {"field": "v", "type": "quantitative", "scale": {"domain": [-0.41, 11], "nice": false, "zero": false}, "axis": {"values": [0,1,2,3,4,5,6,7,8,9,10,11], "title": null}}
       },
       "layer": [
        {"mark": {"type": "line", "color": "#4d4d4d", "strokeWidth": 1.1}, "encoding": {"strokeDash": {"field": "series", "type": "nominal", "scale": {"domain": ["Control","MEM 3g/day cont. inf.","MEM 1g 8-hourly","MEM cont. inf. + TOB 10mg/kg 24-hourly","MEM 8-hourly + TOB 10mg/kg 24-hourly"], "range": [[1,0],[6,3],[4,3],[9,5],[1,0]]}}}},
        {"mark": {"type": "point", "filled": true, "opacity": 1, "stroke": "#1a1a1a", "strokeWidth": 0.8, "size": 64}, "encoding": {
          "shape": {"field": "series", "type": "nominal", "scale": {"domain": ["MEM 8-hourly + TOB 10mg/kg 24-hourly","MEM cont. inf. + TOB 10mg/kg 24-hourly","MEM 1g 8-hourly","MEM 3g/day cont. inf.","Control"], "range": ["circle","M0,-1.05L0.8,0L0,1.05L-0.8,0Z","M0,0.95L0.95,-0.6L-0.95,-0.6Z","M0,-0.95L0.95,0.6L-0.95,0.6Z","circle"]}, "legend": null},
          "fill": {"field": "series", "type": "nominal", "scale": {"domain": ["Control","MEM 3g/day cont. inf.","MEM 1g 8-hourly","MEM cont. inf. + TOB 10mg/kg 24-hourly","MEM 8-hourly + TOB 10mg/kg 24-hourly"], "range": ["#000000","#c0282a","#6e0e0e","#0a0acc","#d0d0d0"]}}
        }}
       ]
      }
     ]
    }
   ]
  }
 ]
}
